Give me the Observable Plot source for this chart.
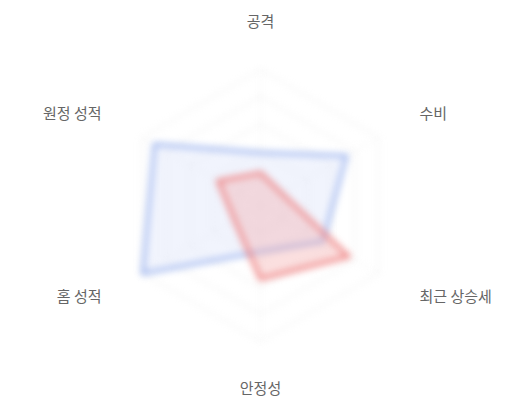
<!DOCTYPE html>
<html>
<head>
<meta charset="utf-8">
<script src="https://cdn.jsdelivr.net/npm/d3@7"></script>
<script src="https://cdn.jsdelivr.net/npm/@observablehq/plot@0.6"></script>
<style>
  html, body { margin: 0; padding: 0; background: #fff; }
  #chart { width: 520px; height: 400px; }
</style>
</head>
<body>
<div id="chart"></div>
<script>
// Axes (clockwise from top)
const axes = ["공격", "수비", "최근 상승세", "안정성", "홈 성적", "원정 성적"];
// Series values (0–100)
const blueValues = [39, 73, 53, 34, 100, 90];
const redValues = [24, 18, 75, 54, 22, 36];
// Grid ring levels
const rings = [20, 40, 60, 80, 100];
const labelRadius = 135;

const n = axes.length;
const ang = i => (i / n) * 2 * Math.PI;
const px = (i, v) => v * Math.sin(ang(i));
const py = (i, v) => v * Math.cos(ang(i));

function polygon(values, series) {
  return values.map((v, i) => ({series, axis: axes[i], x: px(i, v), y: py(i, v)}));
}
const blue = polygon(blueValues, "A");
const red = polygon(redValues, "B");

const ringPts = rings.flatMap(r => axes.map((a, i) => ({ring: r, x: px(i, r), y: py(i, r)})));
const spokes = axes.map((a, i) => ({x1: 0, y1: 0, x2: px(i, 100), y2: py(i, 100)}));
const labels = axes.map((a, i) => ({axis: a, i, x: px(i, labelRadius), y: py(i, labelRadius)}));

const k = 1.36; // px per unit
const plot = Plot.plot({
  width: 520,
  height: 400,
  marginLeft: 0,
  marginRight: 0,
  marginTop: 10,
  marginBottom: 0,
  x: {domain: [-260 / k, 260 / k], axis: null},
  y: {domain: [-195 / k, 195 / k], axis: null},
  style: {fontFamily: "'Noto Sans CJK KR', 'Noto Sans', sans-serif", fontSize: "15px", background: "#fff"},
  marks: [
    Plot.line(ringPts, {x: "x", y: "y", z: "ring", curve: "linear-closed", stroke: "#d8d8d8", strokeWidth: 1, strokeDasharray: "2,3"}),
    Plot.link(spokes, {x1: "x1", y1: "y1", x2: "x2", y2: "y2", stroke: "#e2e2e2", strokeWidth: 1, strokeDasharray: "2,3"}),
    Plot.line(blue, {x: "x", y: "y", curve: "linear-closed", stroke: "#9bb3ee", strokeWidth: 3.5, fill: "#dbe4fa", fillOpacity: 0.4}),
    Plot.line(red, {x: "x", y: "y", curve: "linear-closed", stroke: "#ee7c7c", strokeWidth: 3.5, fill: "#f3a3a3", fillOpacity: 0.35}),
    Plot.text(labels.filter(d => d.i === 0 || d.i === 3), {x: "x", y: "y", text: "axis", textAnchor: "middle", fill: "#666"}),
    Plot.text(labels.filter(d => d.i === 1 || d.i === 2), {x: "x", y: "y", text: "axis", textAnchor: "start", fill: "#666"}),
    Plot.text(labels.filter(d => d.i === 4 || d.i === 5), {x: "x", y: "y", text: "axis", textAnchor: "end", fill: "#666"})
  ]
});
const groups = Array.from(plot.children).filter(el => el.tagName.toLowerCase() === "g");
groups.slice(0, 4).forEach(g => g.style.filter = "blur(3.5px)");
document.getElementById("chart").appendChild(plot);
</script>
</body>
</html>
